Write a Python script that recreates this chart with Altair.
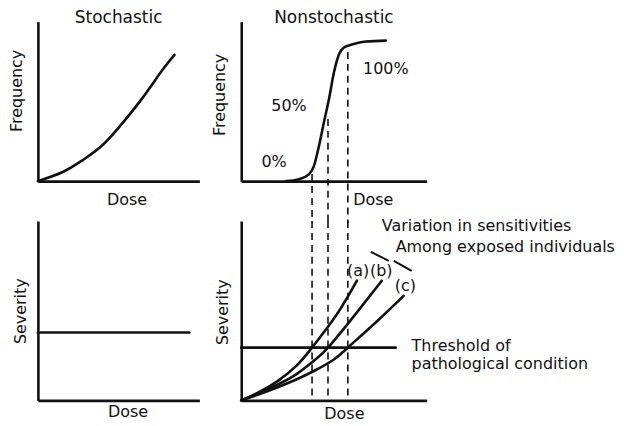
import altair as alt
import pandas as pd

FONT = "DejaVu Sans"
INK = "#111111"
FS = 16

# ---------------- data ----------------
# top-left: stochastic, frequency vs dose
stoch_dose = [0, 1.54, 2.78, 4.01, 5.25, 6.48, 7.72, 8.46]
stoch_freq = [0, 0.057, 0.132, 0.226, 0.365, 0.522, 0.698, 0.792]

# top-right: nonstochastic sigmoid
nonstoch_dose = [2.42, 3.12, 3.66, 3.92, 4.19, 4.46, 4.73, 5.0, 5.27, 5.54, 5.97, 6.72, 7.80]
nonstoch_freq = [0, 0.0125, 0.044, 0.094, 0.219, 0.369, 0.513, 0.681, 0.794, 0.838, 0.856, 0.875, 0.881]

# dose thresholds (dashed lines) and where they meet the sigmoid
marker_dose = [3.82, 4.68, 5.75]
marker_freq = [0.044, 0.39, 0.81]

pct_labels = ["0%", "50%", "100%"]
pct_dose = [1.77, 2.58, 7.8]
pct_freq = [0.12, 0.47, 0.70]

# bottom-left: stochastic severity (flat)
flat_dose = [0, 9.38]
flat_sev = [0.378, 0.378]

# bottom-right: severity curves for three sensitivities
curve_a_dose = [0, 1, 2, 3, 3.82, 5.16, 6.24]
curve_a_sev = [0, 0.048, 0.11, 0.195, 0.294, 0.48, 0.667]
curve_b_dose = [0, 1, 2, 3, 4, 4.68, 6.08, 7.58]
curve_b_sev = [0, 0.042, 0.09, 0.148, 0.228, 0.294, 0.47, 0.667]
curve_c_dose = [0, 1, 2, 3, 4, 5, 5.75, 7.31, 8.76]
curve_c_sev = [0, 0.036, 0.075, 0.118, 0.168, 0.228, 0.294, 0.44, 0.583]

threshold_dose = [0, 8.33]
threshold_sev = [0.294, 0.294]

curve_labels = ["(a)", "(b)", "(c)"]
curve_label_dose = [6.3, 7.55, 8.85]
curve_label_sev = [0.72, 0.72, 0.635]

brace_x = [6.99, 8.23]
brace_y = [0.828, 0.778]
brace_x2 = [7.96, 9.19]
brace_y2 = [0.778, 0.722]

note_text = ["Variation in sensitivities", "Among exposed individuals",
             "Threshold of", "pathological condition"]
note_dose = [7.58, 8.33, 9.19, 9.19]
note_sev = [0.97, 0.855, 0.305, 0.205]

# ---------------- helpers ----------------
TL_W, TR_W = 162, 186
TOP_H, BOT_H = 160, 180


def xaxis(tx, ty):
    return alt.Axis(title="Dose", domain=True, ticks=False, labels=False, grid=False,
                    domainWidth=2.6, domainColor=INK, titleFont=FONT, titleFontSize=FS,
                    titleFontWeight="normal", titleColor=INK, titleX=tx, titleY=ty,
                    titleAlign="center", titleBaseline="middle", titleAngle=0)


def yaxis(title, tx, ty):
    return alt.Axis(title=title, domain=True, ticks=False, labels=False, grid=False,
                    domainWidth=2.6, domainColor=INK, titleFont=FONT, titleFontSize=FS,
                    titleFontWeight="normal", titleColor=INK, titleX=tx, titleY=ty,
                    titleAlign="center", titleBaseline="middle", titleAngle=270)


def enc(xax, yax):
    return dict(
        x=alt.X("d:Q", scale=alt.Scale(domain=[0, 10], nice=False, zero=False), axis=xax),
        y=alt.Y("v:Q", scale=alt.Scale(domain=[0, 1], nice=False, zero=False), axis=yax),
    )


def line(dose, val, xax, yax, width=2.6, interp="monotone"):
    df = pd.DataFrame({"d": dose, "v": val, "o": list(range(len(dose)))})
    return alt.Chart(df).mark_line(color=INK, strokeWidth=width, interpolate=interp,
                                   strokeCap="round").encode(order="o:Q", **enc(xax, yax))


def texts(labels, dose, val, xax, yax, align="center"):
    df = pd.DataFrame({"d": dose, "v": val, "t": labels})
    return alt.Chart(df).mark_text(font=FONT, fontSize=FS, color=INK, align=align,
                                   baseline="middle").encode(text="t:N", **enc(xax, yax))


def title(t):
    return alt.TitleParams(t, font=FONT, fontSize=17, fontWeight="normal", color=INK,
                           anchor="middle", offset=-5)


# ---------------- panels ----------------
ax_tl_x, ax_tl_y = xaxis(89, 18), yaxis("Frequency", -21, 69)
tl = alt.layer(
    line(stoch_dose, stoch_freq, ax_tl_x, ax_tl_y, interp="natural"),
).properties(width=TL_W, height=TOP_H, title=title("Stochastic"))

ax_tr_x, ax_tr_y = xaxis(132, 18), yaxis("Frequency", -22, 73)
dash_top = alt.Chart(pd.DataFrame({"d": marker_dose, "v": marker_freq})).mark_rule(
    color=INK, strokeWidth=1.6, strokeDash=[7, 5]
).encode(y2=alt.value(TOP_H + 42), **enc(ax_tr_x, ax_tr_y))
tr = alt.layer(
    line(nonstoch_dose, nonstoch_freq, ax_tr_x, ax_tr_y),
    dash_top,
    texts(pct_labels, pct_dose, pct_freq, ax_tr_x, ax_tr_y),
).properties(width=TR_W, height=TOP_H, title=title("Nonstochastic"))

ax_bl_x, ax_bl_y = xaxis(90, 11), yaxis("Severity", -17, 90)
bl = alt.layer(
    line(flat_dose, flat_sev, ax_bl_x, ax_bl_y),
).properties(width=TL_W, height=BOT_H)

ax_br_x, ax_br_y = xaxis(103, 13), yaxis("Severity", -19, 91)
dash_bot = alt.Chart(pd.DataFrame({"d": marker_dose})).mark_rule(
    color=INK, strokeWidth=1.6, strokeDash=[7, 5]
).encode(
    x=alt.X("d:Q", scale=alt.Scale(domain=[0, 10], nice=False, zero=False), axis=ax_br_x),
    y=alt.value(BOT_H - 5), y2=alt.value(0))
braces = alt.Chart(pd.DataFrame({"d": brace_x, "v": brace_y, "d2": brace_x2, "v2": brace_y2})).mark_rule(
    color=INK, strokeWidth=2
).encode(x2="d2:Q", y2="v2:Q", **enc(ax_br_x, ax_br_y))
br = alt.layer(
    line(curve_a_dose, curve_a_sev, ax_br_x, ax_br_y, interp="natural"),
    line(curve_b_dose, curve_b_sev, ax_br_x, ax_br_y, interp="natural"),
    line(curve_c_dose, curve_c_sev, ax_br_x, ax_br_y, interp="natural"),
    line(threshold_dose, threshold_sev, ax_br_x, ax_br_y),
    dash_bot,
    braces,
    texts(curve_labels, curve_label_dose, curve_label_sev, ax_br_x, ax_br_y),
    texts(note_text, note_dose, note_sev, ax_br_x, ax_br_y, align="left"),
).properties(width=TR_W, height=BOT_H)

chart = alt.concat(
    tl, tr, bl, br, columns=2, spacing={"row": 40, "column": 42}, bounds="flush"
).properties(
    padding={"left": 0, "top": 0, "right": 0, "bottom": 0},
    background="white",
).configure_view(stroke=None)

chart.save("out.html", embed_options={"renderer": "svg", "actions": False})
